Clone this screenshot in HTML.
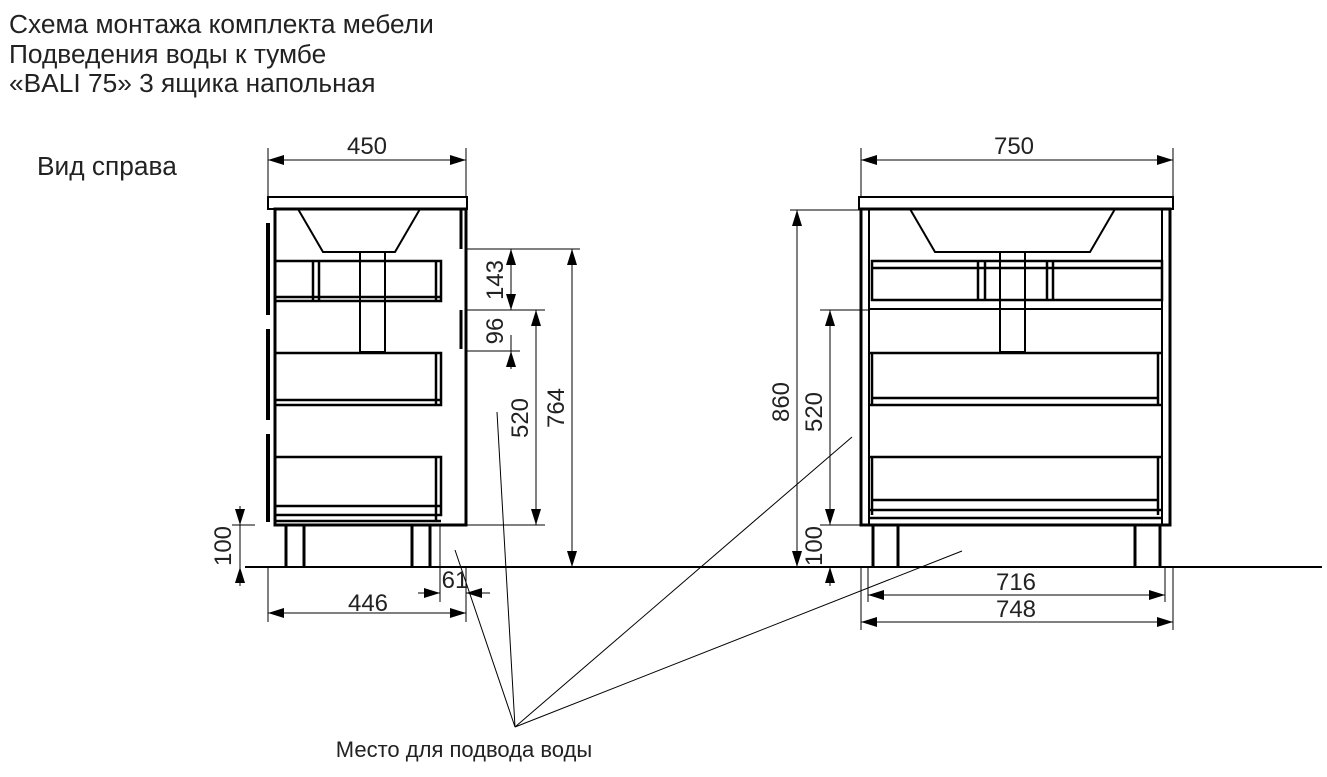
<!DOCTYPE html>
<html><head><meta charset="utf-8"><style>
html,body{margin:0;padding:0;background:#fff;}
svg{display:block;font-family:"Liberation Sans",Arial,sans-serif;}
</style></head><body>
<svg width="1327" height="777" viewBox="0 0 1327 777" xmlns="http://www.w3.org/2000/svg">
<defs>
<marker id="a" viewBox="0 0 16 10" refX="16" refY="5" markerWidth="16" markerHeight="10" markerUnits="userSpaceOnUse" orient="auto-start-reverse"><path d="M0,0 L16,5 L0,10z" fill="#000"/></marker>
</defs>
<g fill="#222" font-size="26.3">
<text x="9" y="33">Схема монтажа комплекта мебели</text>
<text x="9" y="63">Подведения воды к тумбе</text>
<text x="9" y="92">«BALI 75» 3 ящика напольная</text>
<text x="37" y="175">Вид справа</text>
</g>
<g stroke="#000" fill="none">
<line x1="245" y1="567" x2="1322" y2="567" stroke-width="2"/>
<rect x="268" y="197" width="199" height="12" stroke-width="2"/>
<rect x="275" y="209" width="191" height="316" stroke-width="3"/>
<path d="M268,223v92M268,329v91M268,434v88" stroke-width="4"/>
<path d="M298,209L323,252H395L420,209" stroke-width="2"/>
<rect x="360" y="252" width="25" height="100" stroke-width="2"/>
<path d="M276,261H441V301H276M276,297H441M313,261V301M319,261V301M436,261V301" stroke-width="2.5"/>
<path d="M276,353H441V405H276M276,400H441M436,353V405" stroke-width="2.5"/>
<path d="M276,457H441V515H276M276,506H441M276,521H441M436,457V521" stroke-width="2.5"/>
<path d="M461,210V249M461,310V349" stroke-width="3"/>
<path d="M286,567V525M304,567V525M412,567V525M430,567V525" stroke-width="3"/>
<rect x="859" y="197" width="314" height="12" stroke-width="2"/>
<rect x="861" y="209" width="309" height="316" stroke-width="3"/>
<path d="M869,209V525M1162,209V525" stroke-width="2"/>
<path d="M910,209L935,252H1090L1115,209" stroke-width="2"/>
<rect x="1000" y="252" width="25" height="100" stroke-width="2"/>
<path d="M872,261H1162V300H872ZM872,268H1162M978,261V300M985,261V300M1047,261V300M1053,261V300" stroke-width="2.5"/>
<path d="M869,309H1162" stroke-width="2"/>
<path d="M869,353H1162M872,353V405M1158,353V405M872,398H1158M869,405H1162" stroke-width="2.5"/>
<path d="M869,457H1162M872,457V515M1158,457V515M872,500H1158M869,510H1162M869,518H1162" stroke-width="2.5"/>
<path d="M873,567V525M898,567V525M1135,567V525M1160,567V525" stroke-width="3"/>
</g>
<g stroke="#000" stroke-width="1" fill="none">
<path d="M268,148V197M466,148V197M861,148V197M1173,148V197"/>
<line x1="268" y1="160" x2="466" y2="160" marker-start="url(#a)" marker-end="url(#a)"/>
<line x1="861" y1="160" x2="1173" y2="160" marker-start="url(#a)" marker-end="url(#a)"/>
<path d="M466,249H580M466,310H545M466,351H520M466,525H545"/>
<line x1="511" y1="249" x2="511" y2="310" marker-start="url(#a)" marker-end="url(#a)"/>
<line x1="511" y1="335" x2="511" y2="351"/>
<line x1="511" y1="369" x2="511" y2="351" marker-end="url(#a)"/>
<line x1="536" y1="310" x2="536" y2="525" marker-start="url(#a)" marker-end="url(#a)"/>
<line x1="572" y1="249" x2="572" y2="567" marker-start="url(#a)" marker-end="url(#a)"/>
<path d="M232,525H255M268,567V622M466,567V622M440,525V602"/>
<line x1="240" y1="506" x2="240" y2="525" marker-end="url(#a)"/>
<line x1="240" y1="586" x2="240" y2="567" marker-end="url(#a)"/>
<line x1="240" y1="525" x2="240" y2="567"/>
<line x1="418" y1="593" x2="440" y2="593" marker-end="url(#a)"/>
<line x1="490" y1="593" x2="466" y2="593" marker-end="url(#a)"/>
<line x1="268" y1="613" x2="466" y2="613" marker-start="url(#a)" marker-end="url(#a)"/>
<path d="M790,210H861M820,310H870M820,525H870M861,567V630M1173,567V630M868,567V602M1165,567V602"/>
<line x1="797" y1="210" x2="797" y2="567" marker-start="url(#a)" marker-end="url(#a)"/>
<line x1="830" y1="310" x2="830" y2="525" marker-start="url(#a)" marker-end="url(#a)"/>
<line x1="830" y1="586" x2="830" y2="567" marker-end="url(#a)"/>
<line x1="868" y1="595" x2="1165" y2="595" marker-start="url(#a)" marker-end="url(#a)"/>
<line x1="861" y1="622" x2="1173" y2="622" marker-start="url(#a)" marker-end="url(#a)"/>
<path d="M515,727L455,550M515,727L497,412M515,727L852,437M515,727L962,551"/>
</g>
<g fill="#222" font-size="24" text-anchor="middle">
<text x="367" y="154">450</text>
<text x="1014" y="154">750</text>
<text x="368" y="611">446</text>
<text x="455" y="588">61</text>
<text x="1016" y="590">716</text>
<text x="1016" y="617">748</text>
<text transform="translate(503,280) rotate(-90)">143</text>
<text transform="translate(503,331) rotate(-90)">96</text>
<text transform="translate(528,418) rotate(-90)">520</text>
<text transform="translate(564,408) rotate(-90)">764</text>
<text transform="translate(231,546) rotate(-90)">100</text>
<text transform="translate(789,402) rotate(-90)">860</text>
<text transform="translate(822,412) rotate(-90)">520</text>
<text transform="translate(822,546) rotate(-90)">100</text>
<text x="464" y="757" font-size="22">Место для подвода воды</text>
</g>
</svg>
</body></html>
